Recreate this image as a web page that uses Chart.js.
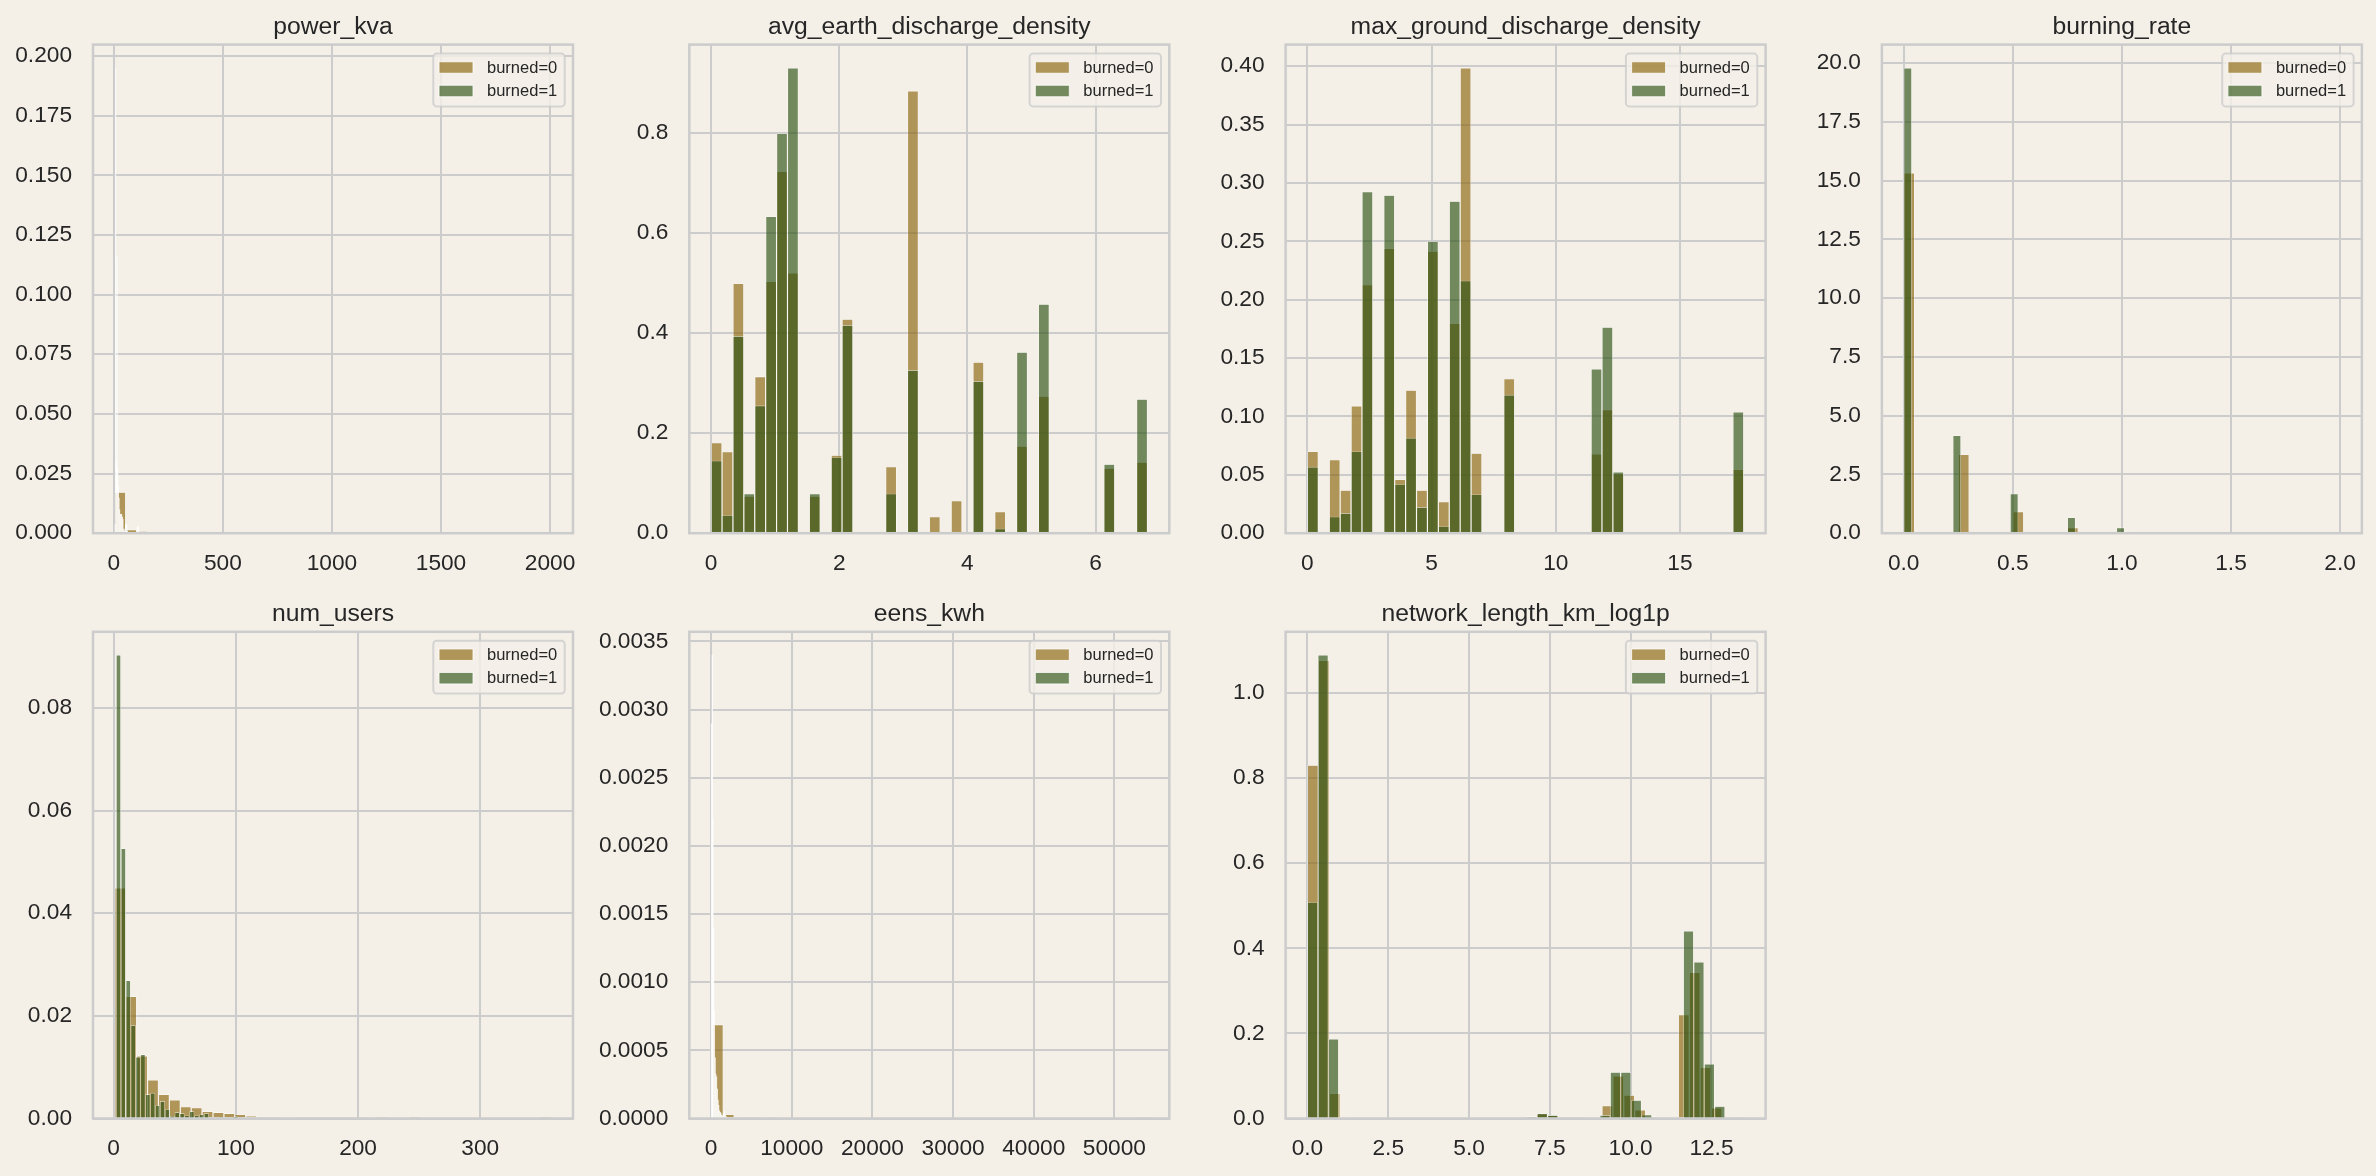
<!DOCTYPE html>
<html>
<head>
<meta charset="utf-8">
<script src="https://cdn.jsdelivr.net/npm/chart.js@4.4.1/dist/chart.umd.min.js"></script>
<style>
  html, body { margin: 0; padding: 0; background: rgb(244,240,232); }
  #wrap { position: relative; width: 2376px; height: 1176px; background: rgb(244,240,232); overflow: hidden; }
  #wrap canvas { position: absolute; }
</style>
</head>
<body>
<div id="wrap"></div>
<script>
// ---------------- DATA (density histograms, 40 bins per group) ----------------
const seriesLabels = ['burned=0', 'burned=1'];
const panelTitles = ['power_kva', 'avg_earth_discharge_density', 'max_ground_discharge_density',
  'burning_rate', 'num_users', 'eens_kwh', 'network_length_km_log1p'];

// bin ranges [min, max] of each group
const powerKvaRange0 = [5, 2005];
const powerKvaRange1 = [5, 125];
const powerKva0 = [0.0172, 0.0015, 0.0008, 0.0002, 0.0001, 0.00005, 0.00003, 0, 0.00002, 0,
  0, 0, 0, 0, 0, 0, 0, 0, 0, 0.00001, 0, 0, 0, 0, 0, 0, 0, 0, 0, 0,
  0, 0, 0, 0, 0, 0, 0, 0, 0, 0.00001];
const powerKva1 = [0.004, 0.195, 0.03, 0.116, 0.0268, 0.02, 0.015, 0.01, 0.008, 0.008,
  0.008, 0.007, 0.006, 0.002, 0.001, 0.002, 0.004, 0.004, 0.003, 0.001,
  0.0005, 0.0005, 0, 0.0005, 0, 0.0005, 0, 0, 0.0005, 0,
  0, 0, 0, 0, 0.003, 0.003, 0.002, 0.0005, 0, 0.0005];

const avgEarthRange0 = [0, 6.81];
const avgEarthRange1 = [0, 6.81];
const avgEarth0 = [0.181, 0.163, 0.499, 0.074, 0.313, 0.503, 0.723, 0.52, 0, 0.074,
  0, 0.156, 0.428, 0, 0, 0, 0.133, 0, 0.884, 0,
  0.033, 0, 0.065, 0, 0.342, 0, 0.043, 0, 0.174, 0,
  0.274, 0, 0, 0, 0, 0, 0.130, 0, 0, 0.142];
const avgEarth1 = [0.145, 0.036, 0.394, 0.079, 0.255, 0.633, 0.799, 0.93, 0, 0.079,
  0, 0.152, 0.416, 0, 0, 0, 0.079, 0, 0.326, 0,
  0, 0, 0, 0, 0.304, 0, 0.009, 0, 0.362, 0,
  0.458, 0, 0, 0, 0, 0, 0.138, 0, 0, 0.268];

const maxGroundRange0 = [0, 17.57];
const maxGroundRange1 = [0, 17.57];
const maxGround0 = [0.070, 0, 0.063, 0.0368, 0.109, 0.2128, 0, 0.244, 0.046, 0.1225,
  0.0368, 0.2416, 0.027, 0.1796, 0.3985, 0.0685, 0, 0, 0.1323, 0,
  0, 0, 0, 0, 0, 0, 0.0679, 0.1059, 0.051, 0,
  0, 0, 0, 0, 0, 0, 0, 0, 0, 0.0547];
const maxGround1 = [0.0568, 0, 0.0141, 0.0172, 0.070, 0.2926, 0, 0.2895, 0.042, 0.0817,
  0.0224, 0.25, 0.006, 0.2843, 0.2162, 0.0332, 0, 0, 0.1185, 0,
  0, 0, 0, 0, 0, 0, 0.1406, 0.1765, 0.0525, 0,
  0, 0, 0, 0, 0, 0, 0, 0, 0, 0.1038];

const burningRange0 = [0, 2.0];
const burningRange1 = [0, 1.5];
const burning0 = [15.33, 0, 0, 0, 0, 3.35, 0, 0, 0, 0,
  0.92, 0, 0, 0, 0, 0.24, 0, 0, 0, 0,
  0.07, 0, 0, 0, 0, 0.03, 0, 0, 0, 0.02,
  0, 0, 0, 0, 0, 0, 0, 0, 0, 0.01];
const burning1 = [19.8, 0, 0, 0, 0, 0, 4.16, 0, 0, 0,
  0, 0, 0, 1.68, 0, 0, 0, 0, 0, 0,
  0.67, 0, 0, 0, 0, 0, 0.24, 0, 0, 0,
  0, 0, 0, 0.03, 0, 0, 0, 0, 0, 0.03];

const numUsersRange0 = [1, 358];
const numUsersRange1 = [2, 162];
const numUsers0 = [0.0449, 0.0238, 0.0122, 0.0075, 0.0047, 0.0036, 0.0023, 0.0021, 0.0014, 0.0012,
  0.001, 0.0008, 0.0005, 0.0004, 0.0003, 0.0002, 0.0002, 0.0001, 0.0001, 0.0001,
  0.0001, 0.00005, 0.00005, 0, 0.00003, 0, 0, 0.00003, 0, 0,
  0, 0, 0, 0, 0, 0, 0, 0, 0, 0.00003];
const numUsers1 = [0.0903, 0.0526, 0.0269, 0.0182, 0.0120, 0.0125, 0.0047, 0.0050, 0.0026, 0.0034,
  0.0018, 0.0005, 0.0012, 0.0010, 0.0006, 0.0014, 0.0006, 0.0008, 0.0010, 0.0002,
  0.0002, 0.0003, 0.0002, 0.0002, 0.0004, 0.0001, 0, 0.0002, 0, 0.0001,
  0, 0, 0.0001, 0, 0, 0, 0, 0, 0, 0.0001];

const eensRange0 = [160, 54100];
const eensRange1 = [0, 3600];
const eens0 = [0.000689, 0.00003, 0.00001, 0.000004, 0, 0.000002, 0, 0, 0, 0,
  0, 0, 0, 0, 0, 0, 0, 0, 0, 0,
  0, 0, 0, 0, 0, 0, 0, 0, 0, 0,
  0, 0, 0, 0, 0, 0, 0, 0, 0, 0.000002];
const eens1 = [0.0029, 0.0034, 0.0022, 0.0014, 0.0008, 0.00045, 0.00033, 0.00031, 0.00022, 0.00014,
  0.0001, 0.00006, 0.00005, 0.00004, 0.00003, 0.00002, 0.00003, 0.00004, 0.00006, 0.00003,
  0.00002, 0, 0.00001, 0, 0, 0.00001, 0, 0, 0, 0,
  0, 0, 0, 0, 0, 0, 0, 0, 0, 0.00001];

const networkRange0 = [0, 13.5];
const networkRange1 = [0, 12.92];
const network0 = [0.83, 1.076, 0.059, 0.002, 0.002, 0, 0, 0, 0, 0,
  0, 0, 0, 0, 0, 0, 0, 0, 0, 0,
  0.005, 0.011, 0.007, 0.001, 0.001, 0, 0, 0.030, 0.10, 0.055,
  0.020, 0.005, 0, 0, 0.244, 0.343, 0.12, 0.025, 0.002, 0.001];
const network1 = [0.508, 1.089, 0.187, 0.002, 0.001, 0, 0, 0, 0, 0,
  0, 0, 0, 0, 0, 0, 0, 0, 0, 0,
  0, 0.004, 0.012, 0.008, 0.001, 0, 0, 0, 0.008, 0.109,
  0.109, 0.043, 0.009, 0.001, 0, 0, 0.441, 0.368, 0.128, 0.029];

// tick values per panel
const xTicks = [
  [0, 500, 1000, 1500, 2000],
  [0, 2, 4, 6],
  [0, 5, 10, 15],
  [0, 0.5, 1.0, 1.5, 2.0],
  [0, 100, 200, 300],
  [0, 10000, 20000, 30000, 40000, 50000],
  [0, 2.5, 5.0, 7.5, 10.0, 12.5]
];
const yTicks = [
  [0, 0.025, 0.05, 0.075, 0.1, 0.125, 0.15, 0.175, 0.2],
  [0, 0.2, 0.4, 0.6, 0.8],
  [0, 0.05, 0.1, 0.15, 0.2, 0.25, 0.3, 0.35, 0.4],
  [0, 2.5, 5, 7.5, 10, 12.5, 15, 17.5, 20],
  [0, 0.02, 0.04, 0.06, 0.08],
  [0, 0.0005, 0.001, 0.0015, 0.002, 0.0025, 0.003, 0.0035],
  [0, 0.2, 0.4, 0.6, 0.8, 1.0]
];
const xTickDecimals = [0, 0, 0, 1, 0, 0, 1];
const yTickDecimals = [3, 1, 2, 1, 2, 4, 1];

// ---------------- STYLE ----------------
const FONT = '"Liberation Sans", Arial, Helvetica, sans-serif';
const TEXT = '#262626';
const GRID = '#cccccc';
const COLOR0 = 'rgba(139,100,10,0.65)';
const COLOR1 = 'rgba(45,82,19,0.65)';
const EDGE = 'rgba(255,255,255,0.8)';
// hairline bins (narrower than the edge stroke) are drawn a little wider and edge-only, like a stroked edge
const burned1BarScale = [2.2, 1, 1, 1, 1, 2.2, 1];
const burned1EdgeWidth = [1, 0.6, 0.6, 0.6, 0.6, 1, 0.6];

const groups = [
  [powerKvaRange0, powerKva0, powerKvaRange1, powerKva1],
  [avgEarthRange0, avgEarth0, avgEarthRange1, avgEarth1],
  [maxGroundRange0, maxGround0, maxGroundRange1, maxGround1],
  [burningRange0, burning0, burningRange1, burning1],
  [numUsersRange0, numUsers0, numUsersRange1, numUsers1],
  [eensRange0, eens0, eensRange1, eens1],
  [networkRange0, network0, networkRange1, network1]
];

function toBars(range, vals) {
  const w = (range[1] - range[0]) / vals.length;
  return vals.map((v, i) => ({ x: range[0] + (i + 0.5) * w, y: v }));
}

const decor = {
  id: 'decor',
  afterDatasetsDraw(chart) {
    const { ctx, chartArea: a } = chart;
    const o = chart.options.plugins.decor;
    ctx.save();
    // frame (spines)
    ctx.strokeStyle = GRID;
    ctx.lineWidth = 2.5;
    ctx.strokeRect(a.left, a.top, a.right - a.left, a.bottom - a.top);
    // title
    ctx.font = '24.7px ' + FONT;
    ctx.fillStyle = TEXT;
    ctx.textAlign = 'center';
    ctx.textBaseline = 'alphabetic';
    ctx.fillText(o.title, (a.left + a.right) / 2, a.top - 11);
    // legend
    const fs = 16.5;
    ctx.font = fs + 'px ' + FONT;
    const tw = Math.max(...seriesLabels.map(l => ctx.measureText(l).width));
    const padL = 5.7, hw = 34, gap = 14, padR = 7.5;
    const bw = padL + hw + gap + tw + padR, bh = 52.8;
    const bx = a.right - 8.3 - bw, by = a.top + 9;
    const r = 3.5;
    ctx.beginPath();
    ctx.moveTo(bx + r, by);
    ctx.arcTo(bx + bw, by, bx + bw, by + bh, r);
    ctx.arcTo(bx + bw, by + bh, bx, by + bh, r);
    ctx.arcTo(bx, by + bh, bx, by, r);
    ctx.arcTo(bx, by, bx + bw, by, r);
    ctx.closePath();
    ctx.fillStyle = 'rgba(244,240,232,0.8)';
    ctx.fill();
    ctx.strokeStyle = 'rgba(204,204,204,0.8)';
    ctx.lineWidth = 2;
    ctx.stroke();
    const colors = [COLOR0, COLOR1];
    const rowsY = [by + 13.9, by + 37.4];
    for (let i = 0; i < 2; i++) {
      const cy = rowsY[i];
      ctx.fillStyle = colors[i];
      ctx.fillRect(bx + padL, cy - 5.75, hw, 11.5);
      ctx.strokeStyle = EDGE;
      ctx.lineWidth = 1;
      ctx.strokeRect(bx + padL, cy - 5.75, hw, 11.5);
      ctx.fillStyle = TEXT;
      ctx.textAlign = 'left';
      ctx.textBaseline = 'middle';
      ctx.fillText(seriesLabels[i], bx + padL + hw + gap, cy + 0.5);
    }
    ctx.restore();
  }
};

const wrap = document.getElementById('wrap');
const PLOT_W = 480;
const rowTop = [44.6, 631.8];
const rowBottom = [533.2, 1118.5];
const XH = 45;

function mkCanvas(cx, cy, cw, ch) {
  const c = document.createElement('canvas');
  c.width = cw; c.height = ch;
  c.style.left = cx + 'px'; c.style.top = cy + 'px';
  c.style.width = cw + 'px'; c.style.height = ch + 'px';
  wrap.appendChild(c);
  return c;
}

panelTitles.forEach((title, k) => {
  const col = k % 4, row = Math.floor(k / 4);
  const cx = 594 * col, cy = 588 * row, cw = 594, ch = 588;
  const L = 93 + 596.3 * col, R = L + PLOT_W, T = rowTop[row], B = rowBottom[row];
  const YW = L - cx - 1;
  const [r0, v0, r1, v1] = groups[k];
  const xmin = Math.min(r0[0], r1[0]), xmax = Math.max(r0[1], r1[1]);
  const xpad = 0.05 * (xmax - xmin);
  const ymax = 1.05 * Math.max(...v0, ...v1);
  const xd = xTickDecimals[k], yd = yTickDecimals[k];
  const tickFont = { family: FONT, size: 22.7 };

  const scalesFor = (show) => ({
    x: {
      type: 'linear', position: 'bottom', display: show,
      min: xmin - xpad, max: xmax + xpad, offset: false,
      grid: { offset: false, color: GRID, lineWidth: 2, drawTicks: false },
      border: { display: false },
      ticks: { autoSkip: false, maxRotation: 0, minRotation: 0, font: tickFont, color: TEXT, padding: 17,
        callback: v => Number(v).toFixed(xd) },
      afterBuildTicks: s => { s.ticks = xTicks[k].map(v => ({ value: v })); },
      afterFit: s => { if (show) s.height = XH; }
    },
    y: {
      type: 'linear', position: 'left', display: show, min: 0, max: ymax,
      grid: { color: GRID, lineWidth: 2, drawTicks: false },
      border: { display: false },
      ticks: { autoSkip: false, font: tickFont, color: TEXT, padding: 21,
        callback: v => Number(v).toFixed(yd) },
      afterBuildTicks: s => { s.ticks = yTicks[k].map(v => ({ value: v })); },
      afterFit: s => { if (show) s.width = YW; }
    }
  });
  const barStyle = { barPercentage: 1, categoryPercentage: 1, borderWidth: 0.6, borderColor: EDGE,
    borderSkipped: 'start', inflateAmount: 0 };
  const common = { responsive: false, animation: false, devicePixelRatio: 1, events: [] };

  // base layer: grid, ticks and burned=0 bars
  const base = mkCanvas(cx, cy, cw, ch);
  new Chart(base, {
    type: 'bar',
    data: { datasets: [Object.assign({ label: seriesLabels[0], data: toBars(r0, v0), backgroundColor: COLOR0 }, barStyle)] },
    options: Object.assign({}, common, {
      layout: { padding: { left: 1, right: cx + cw - R, top: T - cy, bottom: cy + ch - B - XH } },
      scales: scalesFor(true),
      plugins: { legend: { display: false }, tooltip: { enabled: false } }
    })
  });

  // overlay layer: burned=1 bars, frame, title and legend
  const over = mkCanvas(cx, cy, cw, ch);
  new Chart(over, {
    type: 'bar',
    data: { datasets: [Object.assign({ label: seriesLabels[1], data: toBars(r1, v1), backgroundColor: COLOR1 },
      barStyle, { barPercentage: burned1BarScale[k], borderWidth: burned1EdgeWidth[k] })] },
    options: Object.assign({}, common, {
      layout: { padding: { left: L - cx, right: cx + cw - R, top: T - cy, bottom: cy + ch - B } },
      scales: scalesFor(false),
      plugins: { legend: { display: false }, tooltip: { enabled: false }, decor: { title: title } }
    }),
    plugins: [decor]
  });
});
</script>
</body>
</html>
